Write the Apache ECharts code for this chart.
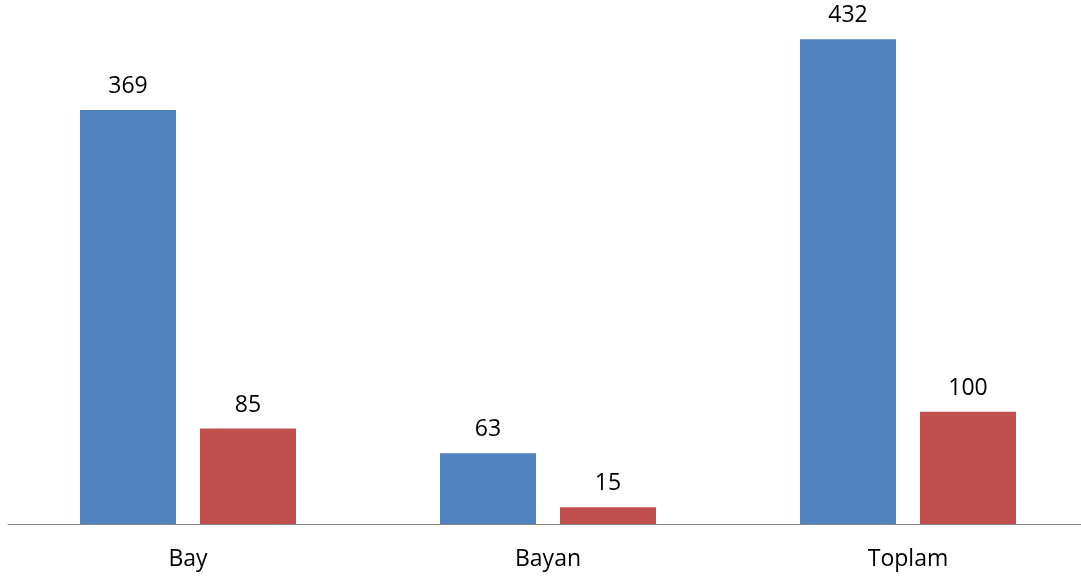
<!DOCTYPE html>
<html>
<head>
<meta charset="utf-8">
<script src="https://cdn.jsdelivr.net/npm/echarts@6/dist/echarts.min.js"></script>
<style>
html,body{margin:0;padding:0;background:#fff;overflow:hidden;width:1081px;height:583px;}
#chart{width:1088px;height:583px;}
</style>
</head>
<body>
<div id="chart"></div>
<script>
const categories = ["Bay", "Bayan", "Toplam"];
const seriesA = [369, 63, 432];
const seriesB = [85, 15, 100];

const FONT = "'Open Sans', 'Liberation Sans', sans-serif";
const chart = echarts.init(document.getElementById('chart'), null, {renderer: 'canvas'});
chart.setOption({
  animation: false,
  backgroundColor: '#ffffff',
  grid: {left: 8, top: 19, right: 0, bottom: 59, containLabel: false},
  xAxis: {
    type: 'category',
    data: categories,
    axisLine: {show: true, lineStyle: {color: '#888888', width: 1}},
    axisTick: {show: false},
    axisLabel: {color: '#000000', fontFamily: FONT, fontSize: 23, margin: 24}
  },
  yAxis: {
    type: 'value',
    min: 0,
    max: 450,
    show: false,
    splitLine: {show: false}
  },
  series: [
    {
      type: 'bar',
      data: seriesA,
      barWidth: 96,
      barGap: '25%',
      itemStyle: {color: '#4F81BD'},
      label: {show: true, position: 'top', distance: 12, color: '#000000', fontFamily: FONT, fontSize: 23}
    },
    {
      type: 'bar',
      data: seriesB,
      barWidth: 96,
      barGap: '25%',
      itemStyle: {color: '#C0504D'},
      label: {show: true, position: 'top', distance: 12, color: '#000000', fontFamily: FONT, fontSize: 23}
    }
  ]
});
</script>
</body>
</html>
